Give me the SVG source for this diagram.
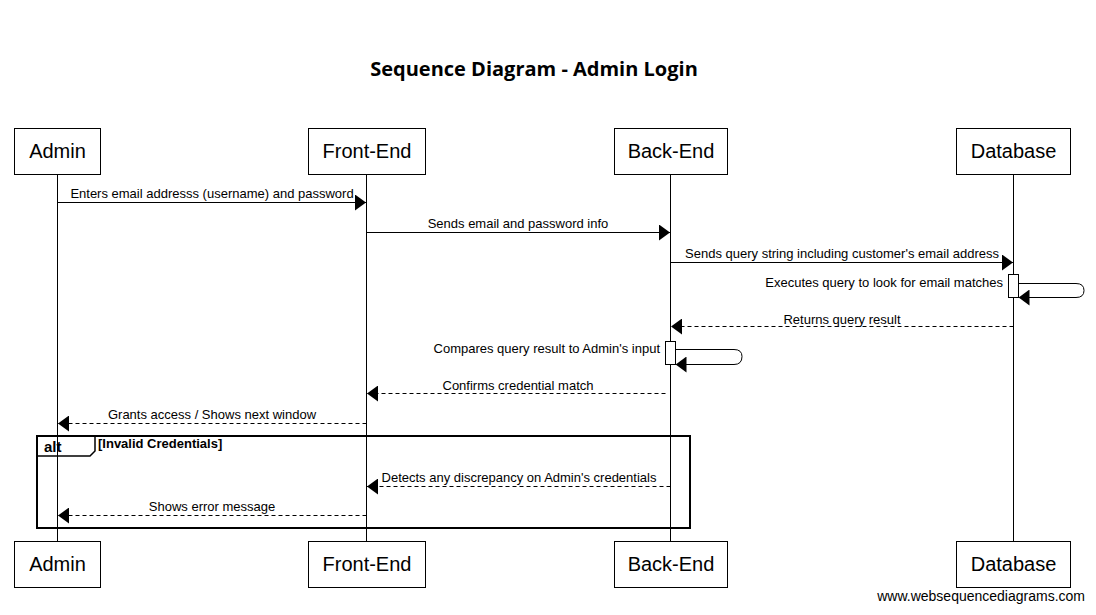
<svg xmlns="http://www.w3.org/2000/svg" width="1096" height="615" viewBox="0 0 1096 615">
<defs>
<marker id="ah" markerWidth="11" markerHeight="16" refX="11" refY="8" orient="auto" markerUnits="userSpaceOnUse"><path d="M0,0 L11,8 L0,16 Z" fill="#000"/></marker>
<style>
.box{fill:#fff;stroke:#000;stroke-width:1}
.pt{font-family:"Liberation Sans",Arial,sans-serif;font-size:20px;text-anchor:middle;fill:#000}
.life{stroke:#000;stroke-width:1}
.msg{stroke:#000;stroke-width:1;fill:none;marker-end:url(#ah)}
.ret{stroke:#000;stroke-width:1;fill:none;stroke-dasharray:4,3;marker-end:url(#ah)}
.lbl{font-family:"Liberation Sans",Arial,sans-serif;font-size:13px;fill:#000}
.act{fill:#fff;stroke:#000;stroke-width:1}
</style>
</defs>
<rect width="1096" height="615" fill="#fff"/>
<text x="534" y="76" font-family="'Open Sans','Noto Sans',sans-serif" font-weight="bold" font-size="20" text-anchor="middle">Sequence Diagram - Admin Login</text>

<g id="lifelines">
<line class="life" x1="57.5" y1="174" x2="57.5" y2="541"/>
<line class="life" x1="366.5" y1="174" x2="366.5" y2="541"/>
<line class="life" x1="670.5" y1="174" x2="670.5" y2="541"/>
<line class="life" x1="1013.5" y1="174" x2="1013.5" y2="541"/>
</g>

<g id="admin">
<rect class="box" x="14.5" y="128.5" width="86" height="46"/>
<text class="pt" x="57.5" y="158">Admin</text>
<rect class="box" x="14.5" y="541.5" width="86" height="46"/>
<text class="pt" x="57.5" y="571">Admin</text>
</g>
<g id="frontend">
<rect class="box" x="308.5" y="128.5" width="117" height="46"/>
<text class="pt" x="367" y="158">Front-End</text>
<rect class="box" x="308.5" y="541.5" width="117" height="46"/>
<text class="pt" x="367" y="571">Front-End</text>
</g>
<g id="backend">
<rect class="box" x="614.5" y="128.5" width="113" height="46"/>
<text class="pt" x="671" y="158">Back-End</text>
<rect class="box" x="614.5" y="541.5" width="113" height="46"/>
<text class="pt" x="671" y="571">Back-End</text>
</g>
<g id="database">
<rect class="box" x="956.5" y="128.5" width="114" height="46"/>
<text class="pt" x="1013.5" y="158">Database</text>
<rect class="box" x="956.5" y="541.5" width="114" height="46"/>
<text class="pt" x="1013.5" y="571">Database</text>
</g>

<g id="alt-frame">
<rect x="37" y="436" width="653" height="92" fill="none" stroke="#000" stroke-width="2"/>
<path d="M37,456 L90,456 L95,451 L95,436" fill="none" stroke="#000" stroke-width="1.5"/>
<text x="44" y="452" font-family="'Liberation Sans',Arial,sans-serif" font-weight="bold" font-size="15">alt</text>
<text x="98" y="448" font-family="'Liberation Sans',Arial,sans-serif" font-weight="bold" font-size="13">[Invalid Credentials]</text>
</g>

<g id="activations">
<rect class="act" x="1008.5" y="274.5" width="10" height="23"/>
<rect class="act" x="665.5" y="341.5" width="10" height="23"/>
</g>

<g id="connectors">
<line class="msg" x1="57.5" y1="202.5" x2="366" y2="202.5"/>
<text class="lbl" x="212" y="198" text-anchor="middle">Enters email addresss (username) and password</text>

<line class="msg" x1="366.5" y1="232.5" x2="670" y2="232.5"/>
<text class="lbl" x="518" y="228" text-anchor="middle">Sends email and password info</text>

<line class="msg" x1="670.5" y1="262.5" x2="1013" y2="262.5"/>
<text class="lbl" x="842" y="258" text-anchor="middle">Sends query string including customer's email address</text>

<path class="msg" d="M1018.5,283.5 L1076,283.5 Q1084,283.5 1084,290.5 Q1084,297.5 1076,297.5 L1018.5,297.5"/>
<text class="lbl" x="1003" y="287" text-anchor="end">Executes query to look for email matches</text>

<line class="ret" x1="1013.5" y1="326.5" x2="671" y2="326.5"/>
<text class="lbl" x="842" y="324" text-anchor="middle">Returns query result</text>

<path class="msg" d="M675.5,349.5 L734,349.5 Q742,349.5 742,356.5 Q742,364.5 734,364.5 L675.5,364.5"/>
<text class="lbl" x="660" y="353" text-anchor="end">Compares query result to Admin's input</text>

<line class="ret" x1="665.5" y1="393.5" x2="367" y2="393.5"/>
<text class="lbl" x="518" y="390" text-anchor="middle">Confirms credential match</text>

<line class="ret" x1="366.5" y1="423.5" x2="58" y2="423.5"/>
<text class="lbl" x="212" y="419" text-anchor="middle">Grants access / Shows next window</text>

<line class="ret" x1="670.5" y1="486.5" x2="367" y2="486.5"/>
<text class="lbl" x="519" y="482" text-anchor="middle">Detects any discrepancy on Admin's credentials</text>

<line class="ret" x1="366.5" y1="515.5" x2="58" y2="515.5"/>
<text class="lbl" x="212" y="511" text-anchor="middle">Shows error message</text>
</g>

<text x="1085" y="601" font-family="'Liberation Sans',Arial,sans-serif" font-size="14" text-anchor="end">www.websequencediagrams.com</text>
</svg>
